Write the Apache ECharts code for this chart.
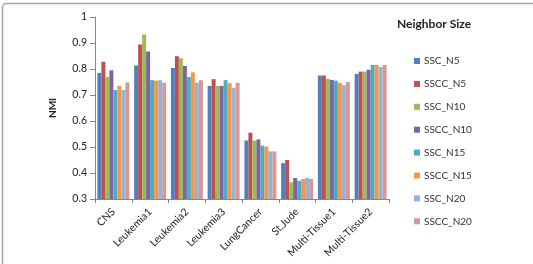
<!DOCTYPE html>
<html><head><meta charset="utf-8">
<script src="https://cdn.jsdelivr.net/npm/echarts@6/dist/echarts.min.js"></script>
<style>html,body{margin:0;padding:0;background:#fff}#c{width:533px;height:264px}</style>
</head><body><div id="c"></div>
<script>
var categories = ['CNS','Leukemia1','Leukemia2','Leukemia3','LungCancer','St.Jude','Multi-Tissue1','Multi-Tissue2'];
var seriesNames = ['SSC_N5','SSCC_N5','SSC_N10','SSCC_N10','SSC_N15','SSCC_N15','SSC_N20','SSCC_N20'];
var SSC_N5   = [0.785,0.813,0.804,0.735,0.525,0.438,0.775,0.781];
var SSCC_N5  = [0.828,0.894,0.849,0.761,0.555,0.450,0.775,0.790];
var SSC_N10  = [0.769,0.933,0.841,0.735,0.525,0.364,0.762,0.790];
var SSCC_N10 = [0.795,0.867,0.812,0.735,0.529,0.381,0.758,0.797];
var SSC_N15  = [0.719,0.757,0.769,0.757,0.505,0.370,0.755,0.815];
var SSCC_N15 = [0.735,0.755,0.787,0.746,0.502,0.377,0.747,0.815];
var SSC_N20  = [0.719,0.757,0.747,0.728,0.483,0.381,0.738,0.808];
var SSCC_N20 = [0.748,0.747,0.757,0.747,0.483,0.377,0.750,0.815];
var yTicks = [0.3,0.4,0.5,0.6,0.7,0.8,0.9,1];
var values = [SSC_N5,SSCC_N5,SSC_N10,SSCC_N10,SSC_N15,SSCC_N15,SSC_N20,SSCC_N20];
var colors = ['#4F81BD','#C0504D','#9BBB59','#8064A2','#4BACC6','#F79646','#95B3D7','#D99694'];
var font = 'Lato, "Open Sans", sans-serif';
var chart = echarts.init(document.getElementById('c'), null, {renderer:'canvas'});
chart.setOption({
  animation:false,
  color: colors,
  textStyle:{fontFamily:font},
  graphic:[{type:'rect', shape:{x:2.5,y:3.5,width:560,height:300,r:4}, style:{fill:'none',stroke:'#A6A6A6',lineWidth:1.5}, silent:true}],
  title:{text:'Neighbor Size', left:392, top:13, textStyle:{fontFamily:font,fontSize:12,fontWeight:'bold',color:'#222'}},
  legend:{orient:'vertical', left:409, top:51, itemWidth:6, itemHeight:6, itemGap:12.9, icon:'rect',
    textStyle:{fontFamily:font,fontSize:10,color:'#333',padding:[0,0,0,-1]}, data:seriesNames},
  grid:{left:95, top:17, right:144, bottom:65, containLabel:false},
  xAxis:{type:'category', data:categories,
    axisLine:{lineStyle:{color:'#878787'}},
    axisTick:{show:true, alignWithLabel:false, length:4, lineStyle:{color:'#878787'}},
    axisLabel:{rotate:45, fontSize:10.5, color:'#222', margin:11, interval:0, fontFamily:font}},
  yAxis:{type:'value', min:0.3, max:1, interval:0.1, name:'NMI', nameLocation:'middle', nameGap:37,
    nameTextStyle:{fontFamily:font,fontSize:10,fontWeight:'bold',color:'#222'},
    axisLine:{show:true, lineStyle:{color:'#878787'}},
    axisTick:{show:true, inside:false, length:5, lineStyle:{color:'#878787'}},
    splitLine:{show:false},
    axisLabel:{fontSize:10.5, color:'#222', margin:8, fontFamily:font, formatter:function(v){return String(Math.round(v*10)/10);}}},
  series: seriesNames.map(function(n,i){return {name:n, type:'bar', data:values[i], barGap:'0%', barCategoryGap:'13%'};})
});
</script></body></html>
